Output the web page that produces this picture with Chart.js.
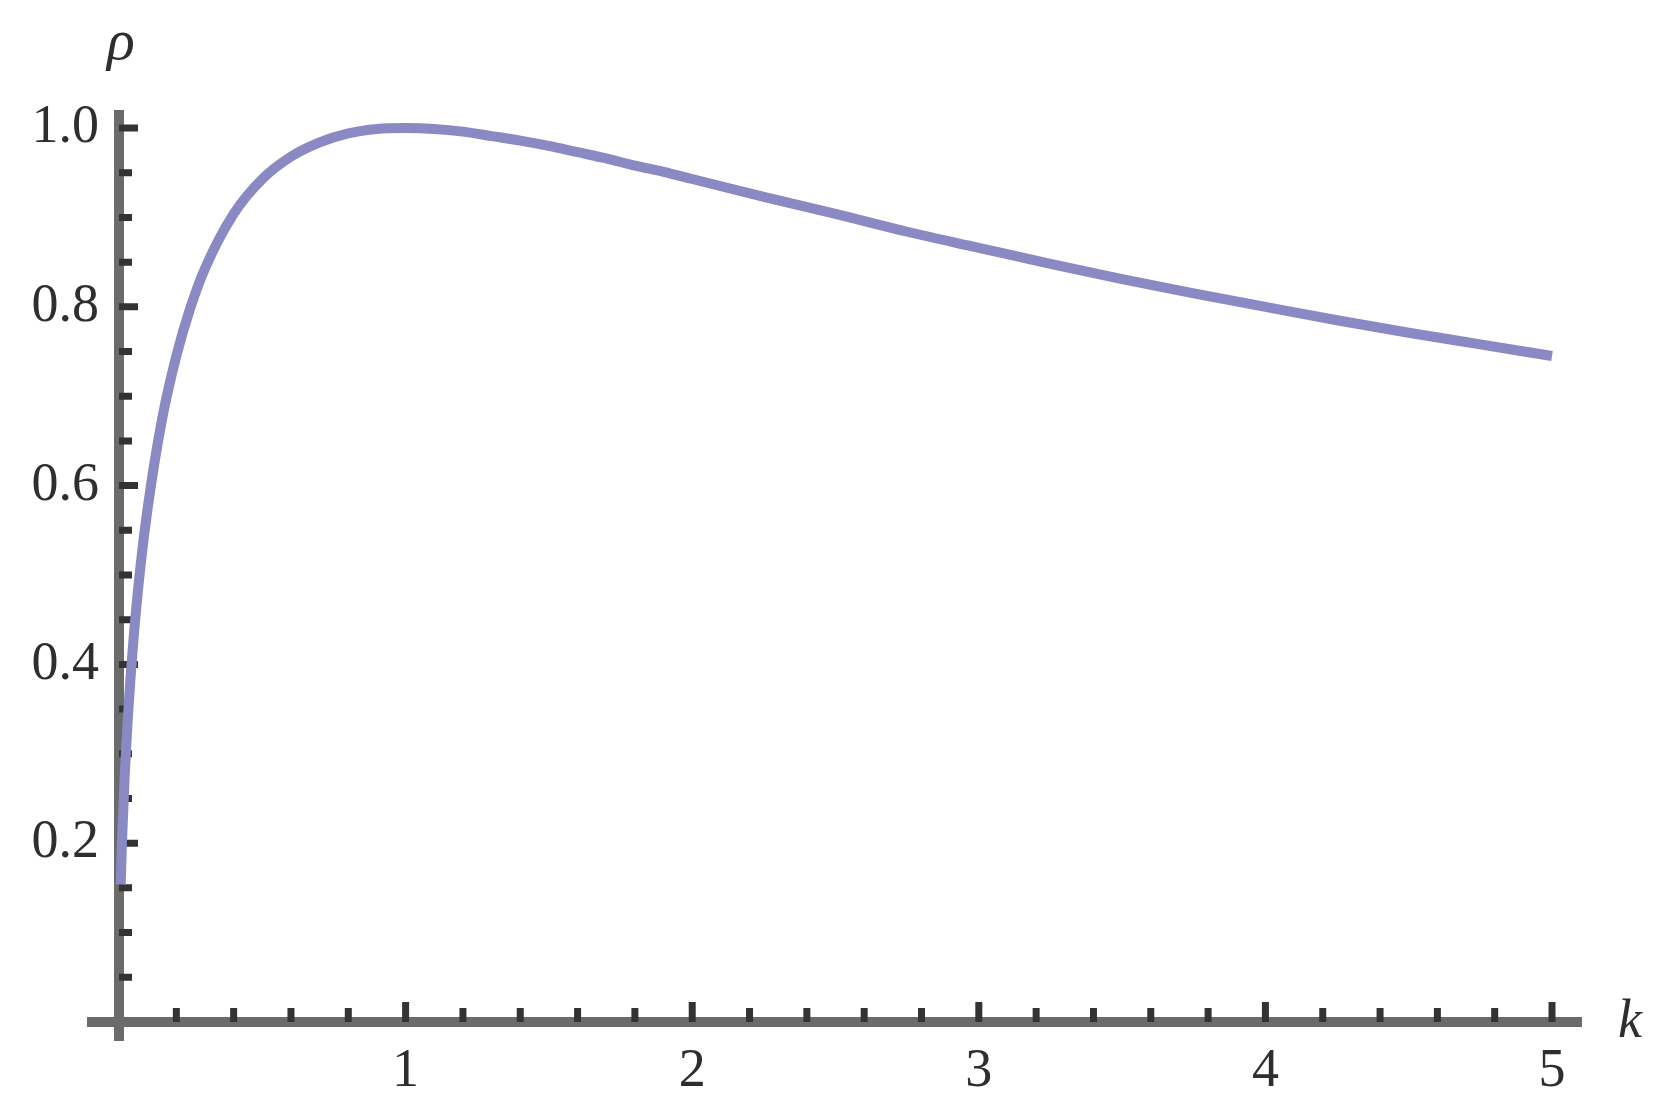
<!DOCTYPE html>
<html>
<head>
<meta charset="utf-8">
<script src="https://cdn.jsdelivr.net/npm/chart.js@4/dist/chart.umd.min.js"></script>
<style>
  html, body { margin: 0; padding: 0; background: #fff; }
  #wrap { width: 1673px; height: 1115px; }
</style>
</head>
<body>
<div id="wrap"><canvas id="rho-plot" width="1673" height="1115"></canvas></div>
<script>
// rho against k
const kValues = [
  0.006, 0.01, 0.02, 0.03, 0.05, 0.075, 0.1, 0.15, 0.2, 0.25, 0.3, 0.4,
  0.5, 0.6, 0.7, 0.8, 0.9, 1.0, 1.1, 1.2, 1.3, 1.4, 1.5, 1.6, 1.7, 1.8,
  1.9, 2.0, 2.25, 2.5, 2.75, 3.0, 3.25, 3.5, 3.75, 4.0, 4.25, 4.5, 4.75, 5.0,
];
const rhoValues = [
  0.154, 0.198, 0.277, 0.336, 0.426, 0.510, 0.575, 0.674, 0.745, 0.800, 0.843, 0.904,
  0.943, 0.968, 0.984, 0.994, 0.999, 1.000, 0.999, 0.996, 0.991, 0.986, 0.980, 0.973, 0.966, 0.958,
  0.951, 0.943, 0.923, 0.904, 0.884, 0.866, 0.848, 0.831, 0.815, 0.800, 0.785, 0.771, 0.758, 0.745,
];

// axis ticks
const xMajorTicks = [1, 2, 3, 4, 5];
const xMajorLabels = ['1', '2', '3', '4', '5'];
const xMinorTicks = [
  0.2, 0.4, 0.6, 0.8, 1.2, 1.4, 1.6, 1.8, 2.2, 2.4, 2.6, 2.8,
  3.2, 3.4, 3.6, 3.8, 4.2, 4.4, 4.6, 4.8,
];
const yMajorTicks = [0.2, 0.4, 0.6, 0.8, 1.0];
const yMajorLabels = ['0.2', '0.4', '0.6', '0.8', '1.0'];
const yMinorTicks = [
  0.05, 0.1, 0.15, 0.25, 0.3, 0.35, 0.45, 0.5, 0.55,
  0.65, 0.7, 0.75, 0.85, 0.9, 0.95,
];

const AXIS_COLOR = '#6b6b6b';
const TICK_COLOR = '#333333';
const TEXT_COLOR = '#2e2e2e';
const CURVE_COLOR = '#8b89c4';
const SERIF = '"Liberation Serif", "DejaVu Serif", serif';

// Mathematica-style axes crossing at the origin, drawn from the chart's scales.
const originAxes = {
  id: 'originAxes',
  beforeDatasetsDraw(chart) {
    const { ctx, scales } = chart;
    const xs = scales.x;
    const ys = scales.y;
    const x0 = xs.getPixelForValue(0);
    const y0 = ys.getPixelForValue(0);
    const area = chart.chartArea;

    ctx.save();
    ctx.strokeStyle = AXIS_COLOR;
    ctx.lineWidth = 10;
    ctx.lineCap = 'butt';
    ctx.beginPath();
    ctx.moveTo(area.left, y0);
    ctx.lineTo(area.right, y0);
    ctx.moveTo(x0, area.bottom);
    ctx.lineTo(x0, area.top);
    ctx.stroke();

    ctx.strokeStyle = TICK_COLOR;
    ctx.lineWidth = 7;
    ctx.beginPath();
    xMinorTicks.forEach((v) => {
      const px = xs.getPixelForValue(v);
      ctx.moveTo(px, y0);
      ctx.lineTo(px, y0 - 14);
    });
    xMajorTicks.forEach((v) => {
      const px = xs.getPixelForValue(v);
      ctx.moveTo(px, y0);
      ctx.lineTo(px, y0 - 20);
    });
    yMinorTicks.forEach((v) => {
      const py = ys.getPixelForValue(v);
      ctx.moveTo(x0, py);
      ctx.lineTo(x0 + 13, py);
    });
    yMajorTicks.forEach((v) => {
      const py = ys.getPixelForValue(v);
      ctx.moveTo(x0, py);
      ctx.lineTo(x0 + 19, py);
    });
    ctx.stroke();

    ctx.fillStyle = TEXT_COLOR;
    ctx.font = `54px ${SERIF}`;
    ctx.textAlign = 'center';
    ctx.textBaseline = 'middle';
    xMajorTicks.forEach((v, i) => {
      ctx.fillText(xMajorLabels[i], xs.getPixelForValue(v), y0 + 50);
    });
    ctx.textAlign = 'right';
    yMajorTicks.forEach((v, i) => {
      ctx.fillText(yMajorLabels[i], x0 - 20, ys.getPixelForValue(v));
    });

    // axis names
    ctx.font = `italic 58px ${SERIF}`;
    ctx.textAlign = 'center';
    ctx.textBaseline = 'alphabetic';
    ctx.fillText('\u03C1', x0 + 2, 59);
    ctx.font = `italic 54px ${SERIF}`;
    ctx.textAlign = 'left';
    ctx.fillText('k', area.right + 36, y0 + 15);
    ctx.restore();
  },
};

new Chart(document.getElementById('rho-plot'), {
  type: 'scatter',
  data: {
    datasets: [{
      label: 'rho',
      data: kValues.map((k, i) => ({ x: k, y: rhoValues[i] })),
      showLine: true,
      borderColor: CURVE_COLOR,
      backgroundColor: CURVE_COLOR,
      borderWidth: 10,
      pointRadius: 0,
      pointHoverRadius: 0,
      cubicInterpolationMode: 'monotone',
      clip: false,
    }],
  },
  options: {
    responsive: false,
    animation: false,
    devicePixelRatio: 1,
    layout: { padding: { left: 87, right: 91, top: 110, bottom: 74 } },
    plugins: {
      legend: { display: false },
      tooltip: { enabled: false },
    },
    scales: {
      x: { type: 'linear', display: false, min: -0.1117, max: 5.1046 },
      y: { type: 'linear', display: false, min: -0.0213, max: 1.0202 },
    },
  },
  plugins: [originAxes],
});
</script>
</body>
</html>
